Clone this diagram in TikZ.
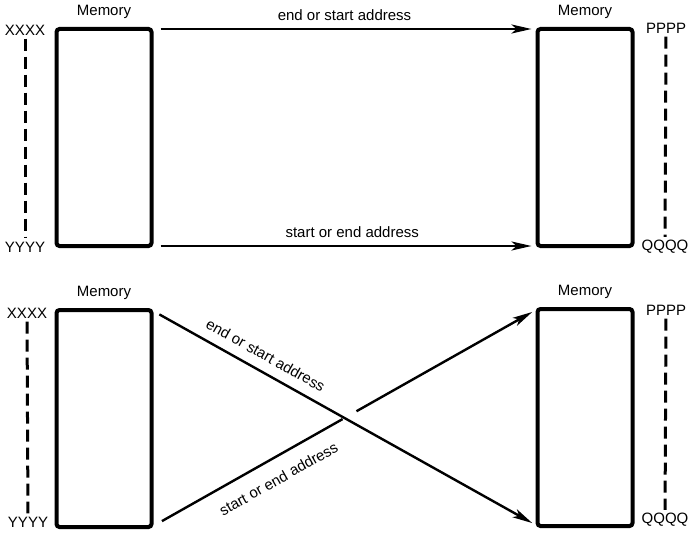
\documentclass[tikz,border=0pt]{standalone}
\usepackage{fontspec}
\setmainfont{Liberation Sans}
\usetikzlibrary{arrows.meta, positioning}

\begin{document}
\begin{tikzpicture}[x=0.5pt, y=-0.5pt, >={Stealth[length=10pt, width=4.5pt, inset=2.5pt]},
    font=\fontsize{7.5}{9}\selectfont,
    mem/.style={draw, line width=2pt, rounded corners=1.5pt, minimum width=47.5pt,
        minimum height=108.5pt, outer sep=0pt, inner sep=0pt},
    tag/.style={inner sep=1.5pt},
    link/.style={line width=1.2pt, shorten <=4.5pt, shorten >=3pt},
    span/.style={line width=1.5pt, dash pattern=on 6pt off 3pt}]
    \useasboundingbox (0,0) rectangle (688,535);

    % upper pair: straight transfer
    \node[mem] (memTL) at (104,137.5) {};
    \node[mem] (memTR) at (585,137.5) {};
    \node[above=1.5pt of memTL] (capTL) {Memory};
    \node[above=1.5pt of memTR] (capTR) {Memory};
    \node[tag] (xTop) at (25,30) {XXXX};
    \node[tag] (yTop) at (25,247) {YYYY};
    \node[tag] (pTop) at (666,28) {PPPP};
    \node[tag] (qTop) at (665,247) {QQQQ};
    \draw[span] (xTop) -- (yTop);
    \draw[span] (pTop) -- (qTop);
    \draw[link, ->] (memTL.north east) -- (memTR.north west)
        node[midway, above] {end or start address};
    \draw[link, ->] (memTL.south east) -- (memTR.south west)
        node[pos=0.52, above] {start or end address};

    % lower pair: crossed transfer
    \node[mem] (memBL) at (104,418.5) {};
    \node[mem] (memBR) at (585,417.5) {};
    \node[above=1.5pt of memBL] (capBL) {Memory};
    \node[above=1.5pt of memBR] (capBR) {Memory};
    \node[tag] (xBot) at (27,313) {XXXX};
    \node[tag] (yBot) at (28,522) {YYYY};
    \node[tag] (pBot) at (666,310) {PPPP};
    \node[tag] (qBot) at (665,520) {QQQQ};
    \draw[span] (xBot) -- (yBot);
    \draw[span] (pBot) -- (qBot);
    \draw[link, ->] (memBL.north east) -- (memBR.south west)
        node[pos=0.275, sloped, above=1.5pt] {end or start address};
    \path (memBL.south east) -- (memBR.north west)
        coordinate[pos=0.495] (gapS) coordinate[pos=0.531] (gapE)
        node[pos=0.303, sloped, below=4pt] {start or end address};
    \draw[link, shorten <=6pt, shorten >=0pt] (memBL.south east) -- (gapS);
    \draw[link, ->, shorten <=0pt] (gapE) -- (memBR.north west);
\end{tikzpicture}
\end{document}
